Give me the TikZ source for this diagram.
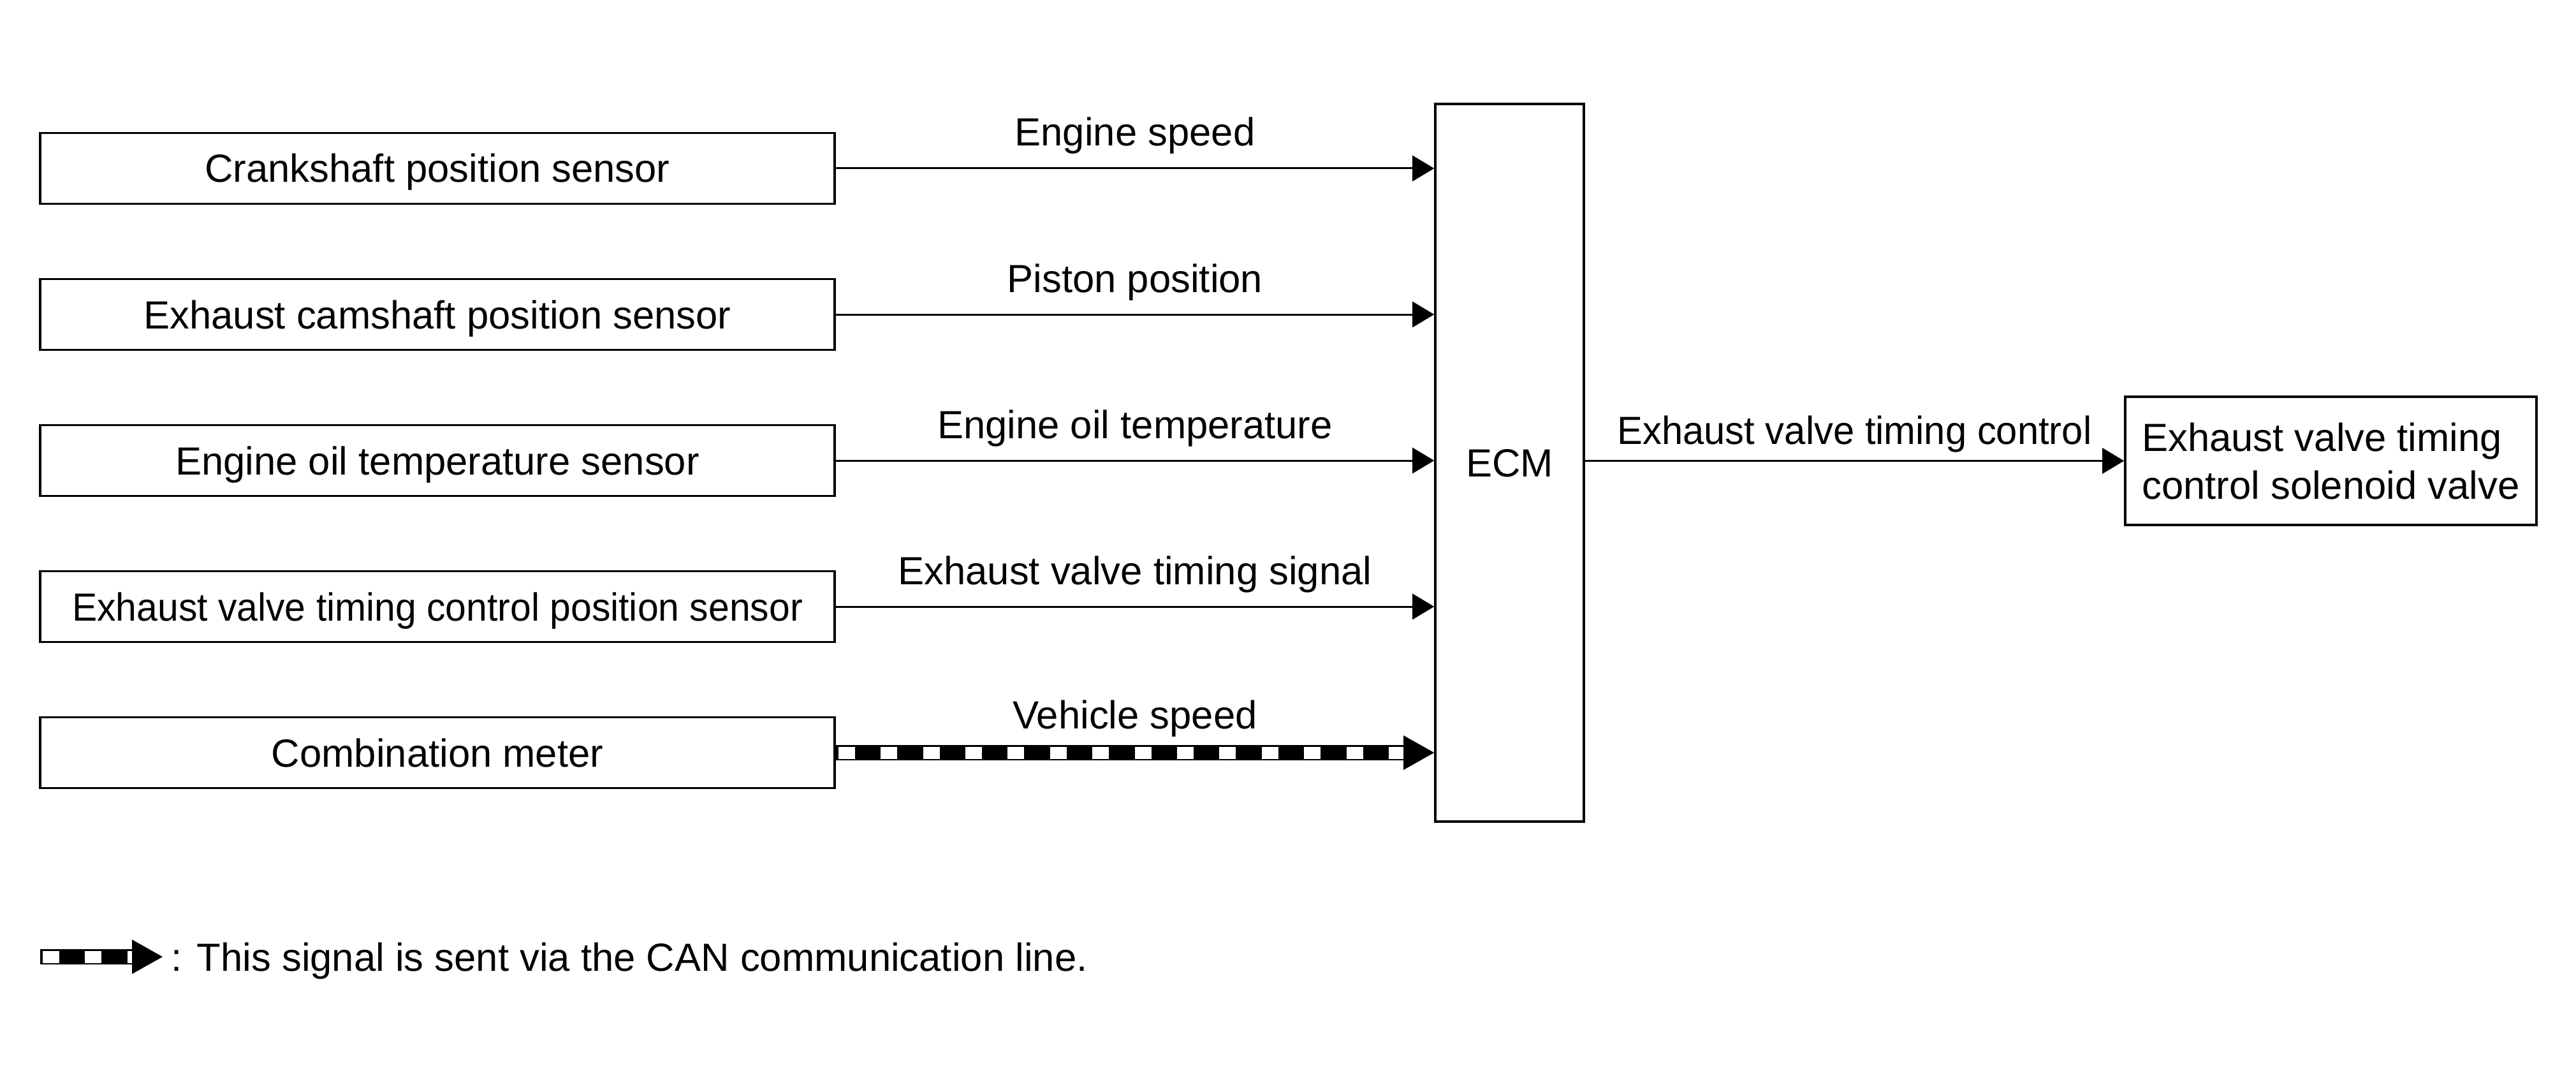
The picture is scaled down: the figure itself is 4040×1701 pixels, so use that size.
\documentclass[tikz,border=0pt]{standalone}
\usepackage{fontspec}
\setmainfont{Liberation Sans}
\usetikzlibrary{arrows.meta}
\begin{document}
\begin{tikzpicture}[x=0.25pt,y=-0.25pt,
  font=\fontsize{15.4pt}{18.75pt}\selectfont,
  box/.style={draw, line width=0.9pt, inner sep=0pt, minimum width=311.5pt, minimum height=27.75pt,
    text height=11pt, text depth=0pt},
  sig/.style={-{Triangle[length=8.5pt,width=10pt]}, line width=0.75pt},
  canband/.style={line width=6pt, -{Triangle[length=12pt,width=13.5pt,line width=0pt]}},
  canholes/.style={white, line width=4.75pt, dash pattern=on 6.5pt off 10.1pt},
  lbl/.style={midway, anchor=base, inner sep=0pt}]
\useasboundingbox (0,0) rectangle (4040,1701);

\node[box] (b1) at (686,264) {Crankshaft position sensor};
\node[box] (b2) at (686,493) {Exhaust camshaft position sensor};
\node[box] (b3) at (686,722) {Engine oil temperature sensor};
\node[box] (b4) at (686,951) {\scalebox{0.956}[1]{Exhaust valve timing control position sensor}};
\node[box] (b5) at (686,1180) {Combination meter};

\node[box, minimum width=58.25pt, minimum height=281.25pt] (ecm) at (2367.5,725.5) {ECM};
\node[draw, line width=0.9pt, inner sep=0pt, minimum width=161.25pt, minimum height=50.25pt, align=left] (sol) at (3655.5,722.5)
  {Exhaust valve timing\\control solenoid valve};

\draw[sig] (b1.east) -- (b1.east -| ecm.west) node[lbl, yshift=8.75pt] {Engine speed};
\draw[sig] (b2.east) -- (b2.east -| ecm.west) node[lbl, yshift=8.75pt] {Piston position};
\draw[sig] (b3.east) -- (b3.east -| ecm.west) node[lbl, yshift=8.75pt] {Engine oil temperature};
\draw[sig] (b4.east) -- (b4.east -| ecm.west) node[lbl, yshift=8.75pt] {Exhaust valve timing signal};
\draw[canband] (b5.east) -- (b5.east -| ecm.west) node[lbl, yshift=9.5pt] {Vehicle speed};
\draw[canholes] ([xshift=1pt]b5.east) -- ([xshift=-12pt]b5.east -| ecm.west);

\draw[sig] (ecm.east |- sol.west) -- (sol.west) node[lbl, yshift=6.5pt] {\scalebox{0.97}[1]{Exhaust valve timing control}};

\coordinate (lgA) at (63,1500);
\coordinate (lgB) at (255,1500);
\coordinate (lgC) at (67,1500);
\coordinate (lgD) at (207,1500);
\draw[canband] (lgA) -- (lgB);
\draw[canholes] (lgC) -- (lgD);
\node[anchor=base west, inner sep=0pt] (legend) at (268,1522) {: This signal is sent via the CAN communication line.};
\end{tikzpicture}
\end{document}
